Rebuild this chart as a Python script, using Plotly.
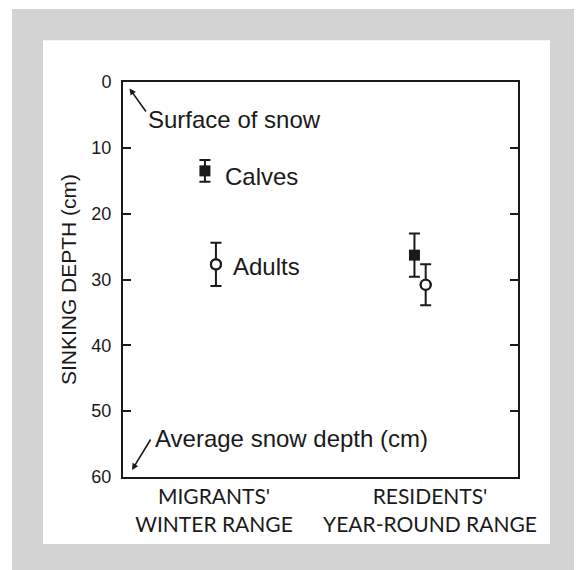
import plotly.graph_objects as go

# ---- data ----
categories = ["MIGRANTS'<br>WINTER RANGE", "RESIDENTS'<br>YEAR-ROUND RANGE"]
category_pos = [1, 2]
calves_offset = [-0.042, -0.072]
adults_offset = [0.009, -0.020]
calves_depth = [13.5, 26.3]
calves_err = [1.65, 3.3]
adults_depth = [27.7, 30.8]
adults_err = [3.3, 3.1]
y_ticks = [0, 10, 20, 30, 40, 50, 60]

calves_x = [c + o for c, o in zip(category_pos, calves_offset)]
adults_x = [c + o for c, o in zip(category_pos, adults_offset)]

INK = "#1a1a1a"
SANS = "Liberation Sans, Arial, Helvetica, sans-serif"

fig = go.Figure()
fig.add_trace(go.Scatter(
    x=calves_x, y=calves_depth, mode="markers", name="Calves",
    marker=dict(symbol="square", size=11, color=INK, line=dict(width=0)),
    error_y=dict(type="data", array=calves_err, visible=True,
                 color=INK, thickness=2, width=5.5),
    showlegend=False,
))
fig.add_trace(go.Scatter(
    x=adults_x, y=adults_depth, mode="markers", name="Adults",
    marker=dict(symbol="circle", size=10, color="white", line=dict(width=2.2, color=INK)),
    error_y=dict(type="data", array=adults_err, visible=True,
                 color=INK, thickness=2, width=5.5),
    showlegend=False,
))
# redraw circles on top of error bars
fig.add_trace(go.Scatter(
    x=adults_x, y=adults_depth, mode="markers", hoverinfo="skip",
    marker=dict(symbol="circle", size=10, color="white", line=dict(width=2.2, color=INK)),
    showlegend=False,
))

shapes = [
    dict(type="rect", xref="paper", yref="paper", x0=-0.281, x1=1.2, y0=-0.26, y1=1.1848,
         fillcolor="#d3d3d3", line=dict(width=0), layer="below"),
    dict(type="rect", xref="paper", yref="paper", x0=-0.2025, x1=1.081, y0=-0.1696, y1=1.106,
         fillcolor="white", line=dict(width=0), layer="below"),
]

annotations = [
    dict(text="Surface of snow", xref="paper", yref="paper", x=0.057, y=0.904,
         xanchor="left", yanchor="middle", showarrow=False,
         font=dict(family=SANS, size=24, color=INK)),
    dict(text="Calves", xref="paper", yref="paper", x=0.254, y=1 - (176.5 - 82) / 395,
         xanchor="left", yanchor="middle", showarrow=False,
         font=dict(family=SANS, size=24, color=INK)),
    dict(text="Adults", xref="paper", yref="paper", x=0.273, y=1 - (266.5 - 82) / 395,
         xanchor="left", yanchor="middle", showarrow=False,
         font=dict(family=SANS, size=24, color=INK)),
    dict(text="Average snow depth (cm)", xref="paper", yref="paper", x=0.075, y=1 - (438.5 - 82) / 395,
         xanchor="left", yanchor="middle", showarrow=False,
         font=dict(family=SANS, size=24, color=INK)),
    # arrows
    dict(text="", xref="paper", yref="paper", x=(129.5 - 123) / 395, y=1 - (88.5 - 82) / 395,
         ax=17.5, ay=24.5, axref="pixel", ayref="pixel", showarrow=True,
         arrowhead=2, arrowsize=0.8, arrowwidth=1.6, arrowcolor=INK),
    dict(text="", xref="paper", yref="paper", x=(132 - 123) / 395, y=1 - (470 - 82) / 395,
         ax=19.5, ay=-32, axref="pixel", ayref="pixel", showarrow=True,
         arrowhead=2, arrowsize=0.8, arrowwidth=1.6, arrowcolor=INK),
]

fig.update_layout(
    width=574, height=562,
    margin=dict(l=115, r=64, t=74, b=93),
    paper_bgcolor="white", plot_bgcolor="white",
    shapes=shapes, annotations=annotations,
    font=dict(family=SANS, color=INK),
)
fig.update_xaxes(
    range=[0.5787, 2.4074], tickvals=category_pos, ticktext=categories,
    ticks="", showgrid=False, zeroline=False,
    showline=True, linewidth=2, linecolor=INK, mirror=True,
    tickfont=dict(family="Lato, sans-serif", size=21, color=INK),
    ticklabelstandoff=0,
)
fig.update_yaxes(
    range=[60, 0], tickvals=y_ticks, ticks="inside", ticklen=8, tickwidth=2, tickcolor=INK,
    showgrid=False, zeroline=False,
    showline=True, linewidth=2, linecolor=INK, mirror="ticks",
    tickfont=dict(family=SANS, size=18, color=INK),
    ticklabelstandoff=6,
    title=dict(text="SINKING DEPTH (cm)", font=dict(family=SANS, size=21, color=INK), standoff=9),
)

fig.write_html("out.html")
